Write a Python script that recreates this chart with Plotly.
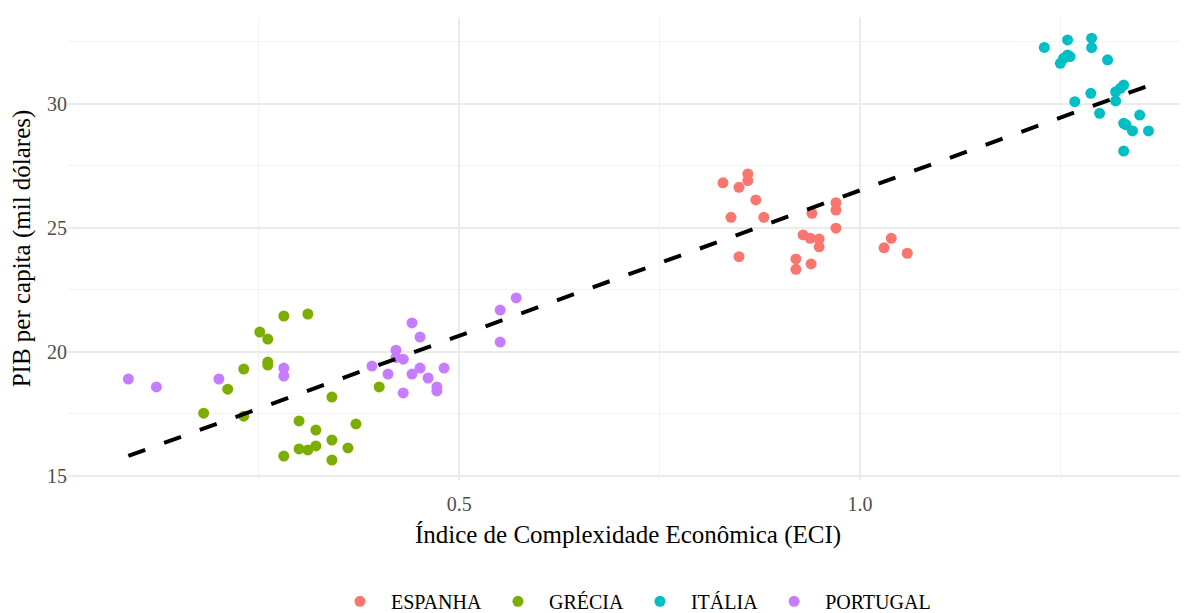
import numpy as np
import plotly.graph_objects as go

countries = ["ESPANHA", "GRÉCIA", "ITÁLIA", "PORTUGAL"]
colors = ["#F8766D", "#7CAE00", "#00BFC4", "#C77CFF"]

espanha_eci = [0.860, 0.860, 0.829, 0.849, 0.870, 0.839, 0.880, 0.849, 0.970, 0.970, 0.940,
               0.970, 0.929, 0.938, 0.949, 0.949, 0.920, 0.920, 0.939, 1.039, 1.030, 1.059]
espanha_pib = [27.17, 26.90, 26.81, 26.63, 26.12, 25.42, 25.42, 23.83, 26.01, 25.71, 25.58,
               24.98, 24.71, 24.57, 24.54, 24.23, 23.74, 23.32, 23.54, 24.57, 24.19, 23.97]

grecia_eci = [0.281, 0.311, 0.251, 0.261, 0.261, 0.261, 0.231, 0.211, 0.181, 0.231, 0.341,
              0.300, 0.321, 0.371, 0.341, 0.300, 0.311, 0.321, 0.361, 0.281, 0.341, 0.400]
grecia_pib = [21.44, 21.52, 20.79, 20.51, 19.58, 19.46, 19.30, 18.49, 17.52, 17.40, 18.17,
              17.21, 16.84, 17.09, 16.44, 16.08, 16.04, 16.20, 16.12, 15.79, 15.63, 18.58]

italia_eci = [1.230, 1.259, 1.289, 1.289, 1.259, 1.254, 1.250, 1.309, 1.268, 1.288, 1.299,
              1.319, 1.329, 1.319, 1.329, 1.340, 1.349, 1.360, 1.329, 1.262, 1.325, 1.332]
italia_pib = [32.27, 32.57, 32.64, 32.26, 31.96, 31.83, 31.63, 31.77, 30.08, 30.42, 29.61,
              30.48, 30.75, 30.11, 29.21, 28.90, 29.54, 28.90, 28.09, 31.90, 30.62, 29.15]

portugal_eci = [0.087, 0.122, 0.200, 0.281, 0.281, 0.391, 0.421, 0.430, 0.441, 0.451, 0.411,
                0.441, 0.451, 0.461, 0.472, 0.472, 0.481, 0.430, 0.551, 0.571, 0.551, 0.421]
portugal_pib = [18.90, 18.58, 18.90, 19.34, 19.02, 19.42, 20.06, 19.70, 21.16, 20.59, 19.10,
                19.10, 19.34, 18.94, 18.58, 18.42, 19.34, 18.34, 21.68, 22.17, 20.39, 19.77]

series_x = [espanha_eci, grecia_eci, italia_eci, portugal_eci]
series_y = [espanha_pib, grecia_pib, italia_pib, portugal_pib]

x_major = [0.5, 1.0]
x_major_labels = ["0.5", "1.0"]
y_major = [15, 20, 25, 30]
y_major_labels = ["15", "20", "25", "30"]

FONT = "Liberation Serif, Times New Roman, serif"

fig = go.Figure()
for name, col, xs, ys in zip(countries, colors, series_x, series_y):
    fig.add_trace(go.Scatter(
        x=xs, y=ys, mode="markers", name=name,
        marker=dict(color=col, size=11, line=dict(width=0)),
    ))

all_x = np.concatenate([np.array(v) for v in series_x])
all_y = np.concatenate([np.array(v) for v in series_y])
slope, intercept = np.polyfit(all_x, all_y, 1)
lx = np.linspace(all_x.min(), all_x.max(), 80)
fig.add_trace(go.Scatter(
    x=lx, y=slope * lx + intercept, mode="lines", showlegend=False,
    line=dict(color="black", width=4, dash="18px,20px"), hoverinfo="skip",
))

fig.update_layout(
    width=1180, height=605,
    margin=dict(l=60, r=0, t=9, b=133, autoexpand=False),
    paper_bgcolor="white", plot_bgcolor="white",
    font=dict(family=FONT, size=20, color="black"),
    showlegend=True,
    legend=dict(orientation="h", x=0.504, xanchor="center", y=-0.262, yanchor="middle",
                font=dict(family=FONT, size=20, color="black"), itemwidth=52,
                traceorder="normal"),
    xaxis=dict(
        range=[0.0117, 1.4093], tickmode="array", tickvals=x_major, ticktext=x_major_labels,
        showgrid=True, gridcolor="#EBEBEB", gridwidth=2, zeroline=False, showline=False,
        ticks="outside", ticklen=6, tickcolor="rgba(0,0,0,0)", automargin=False,
        tickfont=dict(family=FONT, size=20, color="#4D4D4D"),
        minor=dict(tickmode="array", tickvals=[0.25, 0.75, 1.25], showgrid=True,
                   gridcolor="#F2F2F2", gridwidth=1.2),
        title=dict(text="Índice de Complexidade Econômica (ECI)",
                   font=dict(family=FONT, size=25, color="black"), standoff=11),
    ),
    yaxis=dict(
        range=[14.827, 33.496], tickmode="array", tickvals=y_major, ticktext=y_major_labels,
        showgrid=True, gridcolor="#EBEBEB", gridwidth=2, zeroline=False, showline=False,
        ticks="", automargin=False, tickfont=dict(family=FONT, size=20, color="#4D4D4D"),
        minor=dict(tickmode="array", tickvals=[17.5, 22.5, 27.5, 32.5], showgrid=True,
                   gridcolor="#F2F2F2", gridwidth=1.2),
        title=dict(text="PIB per capita (mil dólares)",
                   font=dict(family=FONT, size=25, color="black"), standoff=10),
    ),
)

fig.write_html("out.html")
